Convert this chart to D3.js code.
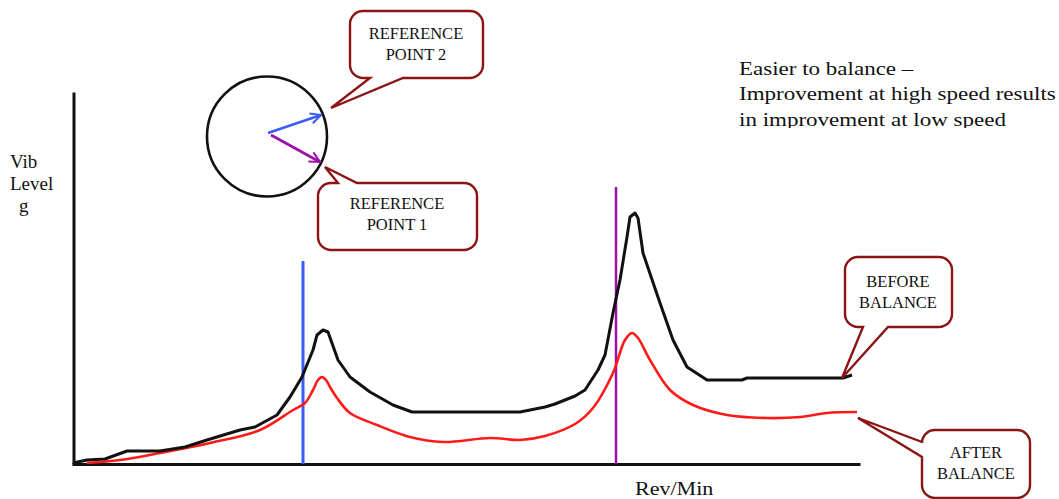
<!DOCTYPE html>
<html>
<head>
<meta charset="utf-8">
<script src="https://cdn.jsdelivr.net/npm/d3@7"></script>
<style>
  html, body { margin: 0; padding: 0; background: #fff; }
  svg { display: block; }
  text { font-family: "Liberation Serif", "DejaVu Serif", serif; fill: #111; }
</style>
</head>
<body>
<svg id="chart" width="1059" height="499"></svg>
<script>
// ---- data (speed in rev/min, vibration level in g) ----
const beforeRpm = [10,150,330,550,880,1130,1350,1680,1830,2050,2180,2300,2410,2450,2510,2560,2660,2780,2980,3210,3400,4480,4730,4830,5030,5130,5260,5330,5410,5480,5550,5580,5630,5660,5710,5880,6010,6150,6350,6700,6750,7710,7800];
const beforeG   = [0.01,0.04,0.05,0.13,0.13,0.17,0.24,0.34,0.37,0.49,0.67,0.87,1.14,1.29,1.34,1.32,1.04,0.87,0.72,0.59,0.52,0.52,0.57,0.60,0.68,0.74,0.94,1.09,1.51,1.84,2.27,2.47,2.51,2.46,2.11,1.61,1.24,0.97,0.84,0.84,0.86,0.86,0.89];
const afterRpm  = [150,480,880,1380,1880,2210,2330,2410,2460,2500,2540,2580,2650,2780,3050,3380,3710,4180,4480,4730,5030,5210,5410,5530,5600,5660,5780,5980,6210,6550,6950,7280,7550,7850];
const afterG    = [0.01,0.04,0.11,0.21,0.34,0.54,0.61,0.74,0.84,0.87,0.84,0.77,0.66,0.51,0.39,0.27,0.22,0.26,0.24,0.28,0.40,0.56,0.91,1.24,1.31,1.26,1.04,0.74,0.59,0.49,0.46,0.47,0.51,0.52];
const refLineRpm = [2310, 5440];
const refLineTopG = [2.03, 2.77];
const refLineColors = ["#3a5cff", "#9b10a6"];
const xMax = 7880, yMax = 3.72;

const svg = d3.select("#chart");
const x = d3.scaleLinear().domain([0, xMax]).range([72, 860]);
const y = d3.scaleLinear().domain([0, yMax]).range([464, 92]);

// axes (no ticks)
svg.append("g").attr("transform", "translate(0,464)")
  .call(d3.axisBottom(x).tickValues([]).tickSizeOuter(0))
  .call(g => g.select(".domain").attr("stroke", "#111").attr("stroke-width", 3));
svg.append("g").attr("transform", "translate(73.5,0)")
  .call(d3.axisLeft(y).tickValues([]).tickSizeOuter(0))
  .call(g => g.select(".domain").attr("stroke", "#111").attr("stroke-width", 3));

// reference lines
refLineRpm.forEach((r, i) => {
  svg.append("line")
    .attr("x1", x(r)).attr("x2", x(r))
    .attr("y1", y(0)).attr("y2", y(refLineTopG[i]))
    .attr("stroke", refLineColors[i]).attr("stroke-width", i === 0 ? 3 : 2.5);
});

const line = d3.line().curve(d3.curveCatmullRom.alpha(0.5)).x(d => x(d[0])).y(d => y(d[1]));
svg.append("path").datum(afterRpm.map((r, i) => [r, afterG[i]]))
  .attr("d", line).attr("fill", "none").attr("stroke", "#ff1a1a").attr("stroke-width", 2.6);
svg.append("path").datum(beforeRpm.map((r, i) => [r, beforeG[i]]))
  .attr("d", d3.line().curve(d3.curveLinear).x(d => x(d[0])).y(d => y(d[1])))
  .attr("fill", "none").attr("stroke", "#111").attr("stroke-width", 3).attr("stroke-linejoin", "round");

// axis labels
const yl = svg.append("text").attr("font-size", 19);
[["Vib", 10, 168], ["Level", 10, 190], ["g", 19, 212]].forEach(([t, px, py]) =>
  yl.append("tspan").attr("x", px).attr("y", py).text(t));
svg.append("text").attr("transform", "translate(635,495) scale(1.13,1)")
  .attr("font-size", 19.5).text("Rev/Min");

// top-right note
const defs = svg.append("defs");
defs.append("clipPath").attr("id", "noteClip").append("rect")
  .attr("x", 700).attr("y", 40).attr("width", 359).attr("height", 88);
const note = svg.append("g").attr("clip-path", "url(#noteClip)")
  .append("text").attr("transform", "translate(739,0) scale(1.18,1)").attr("font-size", 19.5);
["Easier to balance \u2013", "Improvement at high speed results", "in improvement at low speed"].forEach((t, i) =>
  note.append("tspan").attr("x", 0).attr("y", 75 + i * 25.5).text(t));

// phase circle with vectors
const markerDefs = [["arrBlue", "#3a5cff"], ["arrPurple", "#9b10a6"]];
markerDefs.forEach(([id, c]) => {
  defs.append("marker").attr("id", id).attr("viewBox", "0 0 10 10")
    .attr("refX", 9).attr("refY", 5).attr("markerWidth", 5).attr("markerHeight", 5)
    .attr("markerUnits", "strokeWidth").attr("orient", "auto")
    .append("path").attr("d", "M1,1 L9,5 L1,9").attr("fill", "none")
    .attr("stroke", c).attr("stroke-width", 1.6).attr("stroke-linejoin", "miter");
});
svg.append("circle").attr("cx", 267).attr("cy", 136.5).attr("r", 60)
  .attr("fill", "none").attr("stroke", "#111").attr("stroke-width", 2.6);
svg.append("line").attr("x1", 268).attr("y1", 133).attr("x2", 321).attr("y2", 115)
  .attr("stroke", "#3a5cff").attr("stroke-width", 2.6).attr("marker-end", "url(#arrBlue)");
svg.append("line").attr("x1", 271).attr("y1", 135).attr("x2", 320).attr("y2", 162)
  .attr("stroke", "#9b10a6").attr("stroke-width", 2.6).attr("marker-end", "url(#arrPurple)");

// callouts
function calloutPath(bx, by, w, h, r, side, b1, b2, tip) {
  const p = d3.path();
  p.moveTo(bx + r, by);
  if (side === "top") { p.lineTo(b1, by); p.lineTo(tip[0], tip[1]); p.lineTo(b2, by); }
  p.lineTo(bx + w - r, by);
  p.arcTo(bx + w, by, bx + w, by + r, r);
  p.lineTo(bx + w, by + h - r);
  p.arcTo(bx + w, by + h, bx + w - r, by + h, r);
  if (side === "bottom") { p.lineTo(b2, by + h); p.lineTo(tip[0], tip[1]); p.lineTo(b1, by + h); }
  p.lineTo(bx + r, by + h);
  p.arcTo(bx, by + h, bx, by + h - r, r);
  if (side === "left") { p.lineTo(bx, b2); p.lineTo(tip[0], tip[1]); p.lineTo(bx, b1); }
  p.lineTo(bx, by + r);
  p.arcTo(bx, by, bx + r, by, r);
  p.closePath();
  return p.toString();
}
const callouts = [
  { box: [350, 11, 133, 67], side: "bottom", b: [370, 403], tip: [331, 108], lines: ["REFERENCE", "POINT 2"], cx: 416, y0: 39 },
  { box: [318, 183, 159, 67], side: "top", b: [338, 357], tip: [325, 167], lines: ["REFERENCE", "POINT 1"], cx: 397, y0: 209 },
  { box: [845, 257, 107, 70], side: "bottom", b: [863, 888], tip: [842, 378], lines: ["BEFORE", "BALANCE"], cx: 898, y0: 287 },
  { box: [922, 430, 108, 68], side: "left", b: [442, 457], tip: [858, 418], lines: ["AFTER", "BALANCE"], cx: 976, y0: 458 }
];
callouts.forEach(c => {
  const [bx, by, w, h] = c.box;
  svg.append("path").attr("d", calloutPath(bx, by, w, h, 13, c.side, c.b[0], c.b[1], c.tip))
    .attr("fill", "#fff").attr("stroke", "#8c1414").attr("stroke-width", 2.4).attr("stroke-linejoin", "miter");
  const t = svg.append("text").attr("text-anchor", "middle").attr("font-size", 16.5);
  c.lines.forEach((s, i) => t.append("tspan").attr("x", c.cx).attr("y", c.y0 + i * 20.5).text(s));
});
</script>
</body>
</html>
